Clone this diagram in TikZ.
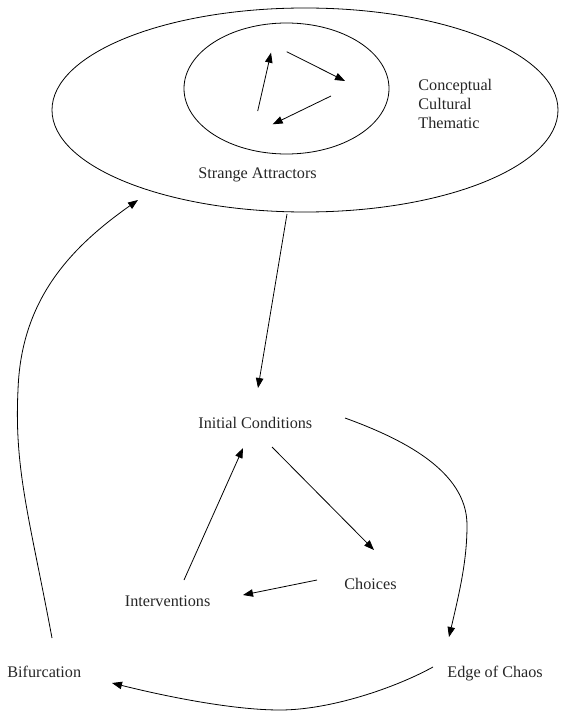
\documentclass[tikz,border=0pt]{standalone}
\usepackage{fontspec}
\setmainfont{Liberation Serif}
\usetikzlibrary{arrows.meta,shapes.geometric}
\begin{document}
\begin{tikzpicture}[x=1pt,y=-1pt,
  line width=0.8pt,
  lbl/.style={inner sep=0pt,anchor=base west,font=\fontsize{16.2}{19}\selectfont,text=black!85},
  conn/.style={-{Triangle[length=10pt,width=7.5pt]}},
  ring/.style={draw,ellipse,inner sep=0pt}]
\useasboundingbox (0,0) rectangle (561,711);
% ellipses
\node[ring,minimum width=506pt,minimum height=204pt] (outer) at (305,110) {};
\node[ring,minimum width=205pt,minimum height=131pt] (inner) at (286.5,88.5) {};
% labels
\node[lbl] (sa) at (198,179) {Strange Attractors};
\node[lbl,align=left,anchor=north west] (cct) at (418,79) {Conceptual\\Cultural\\Thematic};
\node[lbl] (ic) at (198,428) {Initial Conditions};
\node[lbl] (ch) at (344,589) {Choices};
\node[lbl] (iv) at (124.5,606) {Interventions};
\node[lbl] (bf) at (7,677) {Bifurcation};
\node[lbl] (ec) at (447,677) {Edge of Chaos};
% inner cycle coordinates
\coordinate (a1s) at (257.7,111);
\coordinate (a1e) at (271,52.7);
\coordinate (a2s) at (286.7,51.7);
\coordinate (a2e) at (345,81);
\coordinate (a3s) at (331,96);
\coordinate (a3e) at (272.7,124.3);
\draw[conn] (a1s) -- (a1e);
\draw[conn] (a2s) -- (a2e);
\draw[conn] (a3s) -- (a3e);
% main connectors
\coordinate (saout) at (287,214);
\coordinate (icin) at (258,388);
\draw[conn] (saout) -- (icin);
\coordinate (icout) at (272,447);
\coordinate (chin) at (374,550);
\draw[conn] (icout) -- (chin);
\coordinate (chout) at (317,580);
\coordinate (ivin) at (243,595);
\draw[conn] (chout) -- (ivin);
\coordinate (ivout) at (184,580);
\coordinate (icin2) at (243,448);
\draw[conn] (ivout) -- (icin2);
% curved connectors
\coordinate (icout2) at (345,418);
\coordinate (ecin) at (449,637);
\draw[conn] (icout2) .. controls (400,438) and (467,470) .. (467,525)
  .. controls (467,560) and (460,590) .. (ecin);
\coordinate (ecout) at (433,667);
\coordinate (bfin) at (112,683);
\draw[conn] (ecout) .. controls (395,688) and (330,710) .. (280,710)
  .. controls (230,710) and (160,695) .. (bfin);
\coordinate (bfout) at (52,638);
\coordinate (sain) at (138,200);
\draw[conn] (bfout) .. controls (30,520) and (14,470) .. (18,390)
  .. controls (21,300) and (70,248) .. (sain);
\end{tikzpicture}
\end{document}
